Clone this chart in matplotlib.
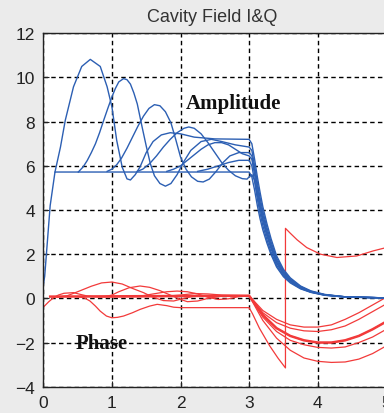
import numpy as np
import matplotlib.pyplot as plt

# amplitude traces up to t = 3 (x, y)
amp_base = [(0.0, 0.6), (0.02, 1.0), (0.05, 2.2), (0.1, 4.2), (0.17, 5.72), (3.0, 5.72)]
amp_a = [(0.17, 5.72), (0.25, 6.85), (0.32, 8.06), (0.44, 9.58), (0.56, 10.5), (0.685, 10.82),
         (0.83, 10.5), (0.93, 9.58), (1.0, 8.67), (1.07, 7.15), (1.15, 5.94), (1.22, 5.41),
         (1.27, 5.36), (1.34, 5.6), (1.41, 5.95), (1.5, 6.6), (1.6, 7.1), (1.72, 7.4),
         (1.85, 7.5), (2.0, 7.45), (2.2, 7.3), (2.5, 7.22), (3.0, 7.2)]
amp_b = [(0.51, 5.72), (0.58, 5.95), (0.64, 6.24), (0.7, 6.6), (0.76, 7.0), (0.82, 7.5),
         (0.88, 8.06), (0.94, 8.6), (1.0, 9.12), (1.05, 9.5), (1.1, 9.8), (1.17, 9.95),
         (1.22, 9.9), (1.27, 9.7), (1.32, 9.3), (1.37, 8.8), (1.44, 7.76), (1.5, 6.9),
         (1.56, 6.1), (1.62, 5.55), (1.7, 5.2), (1.78, 5.08), (1.86, 5.2), (1.95, 5.6),
         (2.05, 6.2), (2.15, 6.7), (2.3, 7.1), (2.45, 7.2), (2.6, 7.1), (2.8, 6.95), (3.0, 6.85)]
amp_c = [(0.93, 5.75), (1.0, 5.85), (1.07, 6.05), (1.14, 6.35), (1.22, 6.8), (1.3, 7.3),
         (1.38, 7.8), (1.46, 8.25), (1.54, 8.6), (1.62, 8.77), (1.7, 8.72), (1.78, 8.45),
         (1.86, 7.95), (1.93, 7.2), (2.0, 6.4), (2.08, 5.85), (2.16, 5.5), (2.25, 5.3),
         (2.33, 5.27), (2.42, 5.4), (2.52, 5.75), (2.62, 6.15), (2.72, 6.45), (2.85, 6.6), (3.0, 6.6)]
amp_d = [(1.37, 5.75), (1.45, 5.85), (1.55, 6.1), (1.65, 6.45), (1.75, 6.85), (1.85, 7.2),
         (1.95, 7.5), (2.05, 7.7), (2.12, 7.76), (2.2, 7.7), (2.3, 7.45), (2.4, 7.05),
         (2.5, 6.6), (2.6, 6.15), (2.7, 5.8), (2.8, 5.55), (2.9, 5.42), (2.97, 5.4), (3.0, 5.5)]
amp_e = [(1.8, 5.75), (1.9, 5.85), (2.0, 6.0), (2.1, 6.25), (2.2, 6.5), (2.3, 6.75),
         (2.4, 6.95), (2.5, 7.05), (2.6, 7.05), (2.7, 6.95), (2.8, 6.75), (2.9, 6.55), (3.0, 6.45)]
amp_f = [(2.25, 5.75), (2.4, 5.85), (2.55, 6.0), (2.7, 6.15), (2.85, 6.25), (3.0, 6.25)]

# amplitude decay after t = 3
decay_t = [3.04, 3.08, 3.12, 3.16, 3.2, 3.26, 3.32, 3.4, 3.5, 3.6, 3.75, 3.9, 4.1, 4.4, 5.0]
decay_base = [5.5, 4.9, 4.2, 3.6, 3.1, 2.5, 1.98, 1.42, 0.98, 0.7, 0.43, 0.27, 0.14, 0.06, 0.02]
decay_f = [6.0, 5.3, 4.5, 3.85, 3.3, 2.65, 2.1, 1.5, 1.03, 0.74, 0.45, 0.28, 0.15, 0.06, 0.02]
decay_d = [5.6, 5.35, 4.7, 4.05, 3.5, 2.82, 2.25, 1.6, 1.1, 0.78, 0.47, 0.29, 0.15, 0.06, 0.02]
decay_e = [6.3, 5.6, 4.85, 4.2, 3.62, 2.93, 2.33, 1.66, 1.14, 0.81, 0.49, 0.3, 0.16, 0.07, 0.02]
decay_c = [6.45, 5.8, 5.05, 4.35, 3.78, 3.05, 2.43, 1.74, 1.19, 0.84, 0.51, 0.31, 0.16, 0.07, 0.02]
decay_b = [6.7, 6.0, 5.25, 4.55, 3.95, 3.2, 2.55, 1.83, 1.25, 0.88, 0.53, 0.32, 0.17, 0.07, 0.02]
decay_a = [7.0, 6.3, 5.5, 4.8, 4.15, 3.38, 2.7, 1.93, 1.32, 0.93, 0.56, 0.34, 0.18, 0.07, 0.02]

# phase traces up to t = 3
ph_base = [(0.1, 0.08), (3.0, 0.12)]
ph_a = [(0.0, -0.4), (0.08, -0.15), (0.15, 0.03), (0.22, 0.15), (0.3, 0.23), (0.44, 0.26),
        (0.54, 0.18), (0.65, 0.1), (0.8, 0.06), (3.0, 0.12)]
ph_b = [(0.2, 0.05), (0.35, 0.12), (0.5, 0.3), (0.7, 0.55), (0.85, 0.7), (1.0, 0.74),
        (1.15, 0.65), (1.3, 0.45), (1.46, 0.26), (1.6, 0.05), (1.75, -0.1), (1.9, -0.12),
        (2.05, 0.0), (2.2, 0.1), (2.5, 0.12), (3.0, 0.12)]
ph_c = [(0.5, 0.08), (0.6, 0.02), (0.68, -0.12), (0.76, -0.35), (0.83, -0.58), (0.92, -0.8),
        (1.0, -0.88), (1.08, -0.86), (1.17, -0.8), (1.3, -0.65), (1.41, -0.5), (1.55, -0.35),
        (1.66, -0.27), (1.8, -0.33), (1.9, -0.4), (2.0, -0.42), (2.5, -0.42), (3.0, -0.42)]
ph_d = [(0.9, 0.08), (1.0, 0.15), (1.1, 0.3), (1.25, 0.48), (1.41, 0.56), (1.55, 0.5),
        (1.7, 0.35), (1.85, 0.15), (2.0, -0.05), (2.1, -0.15), (2.25, -0.12), (2.4, 0.0),
        (2.6, 0.1), (3.0, 0.12)]
ph_e = [(1.3, 0.08), (1.45, 0.12), (1.6, 0.2), (1.8, 0.3), (1.95, 0.33), (2.1, 0.3),
        (2.25, 0.2), (2.4, 0.05), (2.55, -0.05), (2.7, -0.02), (2.85, 0.08), (3.0, 0.12)]
ph_f = [(1.8, 0.1), (2.0, 0.15), (2.2, 0.22), (2.4, 0.2), (2.6, 0.15), (3.0, 0.12)]

# phase after t = 3
phase_t = [3.2, 3.4, 3.6, 3.8, 4.0, 4.2, 4.4, 4.6, 4.8, 5.0]
tail_1 = [-0.55, -0.95, -1.2, -1.3, -1.3, -1.2, -0.95, -0.65, -0.3, 0.05]
tail_2 = [-0.65, -1.1, -1.35, -1.47, -1.5, -1.42, -1.25, -0.95, -0.6, -0.25]
tail_3 = [-0.75, -1.35, -1.7, -1.9, -2.0, -2.0, -1.9, -1.7, -1.4, -1.05]
tail_4 = [-0.85, -1.5, -1.9, -2.1, -2.22, -2.25, -2.2, -2.0, -1.75, -1.4]
tail_5 = [-1.0, -1.8, -2.35, -2.7, -2.85, -2.9, -2.88, -2.75, -2.5, -2.15]
# trace that wraps past -pi
tail_wrap = [(3.05, -0.7), (3.15, -1.35), (3.3, -2.15), (3.42, -2.7), (3.53, -3.15),
             (3.53, 3.17), (3.6, 2.95), (3.7, 2.65), (3.84, 2.3), (4.04, 2.0),
             (4.28, 1.85), (4.57, 1.92), (4.81, 2.15), (5.0, 2.3)]

blue = '#2c5fb3'
red = '#f23a3a'


def xy(pts):
    a = np.array(pts)
    return a[:, 0], a[:, 1]


fig = plt.figure(figsize=(3.84, 4.14), dpi=100, facecolor='#ebebeb')
ax = fig.add_axes([0.1128, 0.0635, 0.8932, 0.8536])
ax.set_facecolor('white')

# phase
for pre, tail in [(ph_a, tail_1), (ph_b, tail_2), (ph_d, tail_3), (ph_e, tail_4), (ph_f, tail_5)]:
    x0, y0 = xy(pre)
    ax.plot(np.r_[x0, phase_t], np.r_[y0, tail], color=red, lw=0.9)
x0, y0 = xy(ph_c)
x1, y1 = xy(tail_wrap)
ax.plot(np.r_[x0, x1], np.r_[y0, y1], color=red, lw=0.9)
x0, y0 = xy(ph_base)
ax.plot(np.r_[x0, phase_t], np.r_[y0, tail_3], color=red, lw=1.8)

# amplitude
for pre, tail in [(amp_base, decay_base), (amp_a, decay_a), (amp_b, decay_b), (amp_c, decay_c),
                  (amp_d, decay_d), (amp_e, decay_e), (amp_f, decay_f)]:
    x0, y0 = xy(pre)
    ax.plot(np.r_[x0, decay_t], np.r_[y0, tail], color=blue, lw=1.0)

ax.set_xlim(0, 5)
ax.set_ylim(-4, 12)
ax.set_xticks(range(0, 6))
ax.set_yticks(range(-4, 13, 2))
ax.grid(True, color='black', linestyle=(0, (3.2, 2.4)), linewidth=1.0)
ax.set_axisbelow(True)
ax.tick_params(direction='in', length=4, pad=6, labelsize=12.5, colors='#222222')
for lab in ax.get_xticklabels() + ax.get_yticklabels():
    lab.set_fontfamily('Liberation Sans')
for s in ax.spines.values():
    s.set_color('#222222')
    s.set_linewidth(1.0)

ax.text(2.07, 8.6, 'Amplitude', fontsize=15, fontweight='bold', family='Liberation Serif',
        color='#111111', va='baseline', ha='left')
ax.text(0.47, -2.23, 'Phase', fontsize=15, fontweight='bold', family='Liberation Serif',
        color='#111111', va='baseline', ha='left')

fig.text(0.553, 0.947, 'Cavity Field I&Q', fontsize=13, family='Liberation Sans',
         color='#333333', ha='center', va='baseline')

fig.savefig('out.png', dpi=100, facecolor=fig.get_facecolor())
